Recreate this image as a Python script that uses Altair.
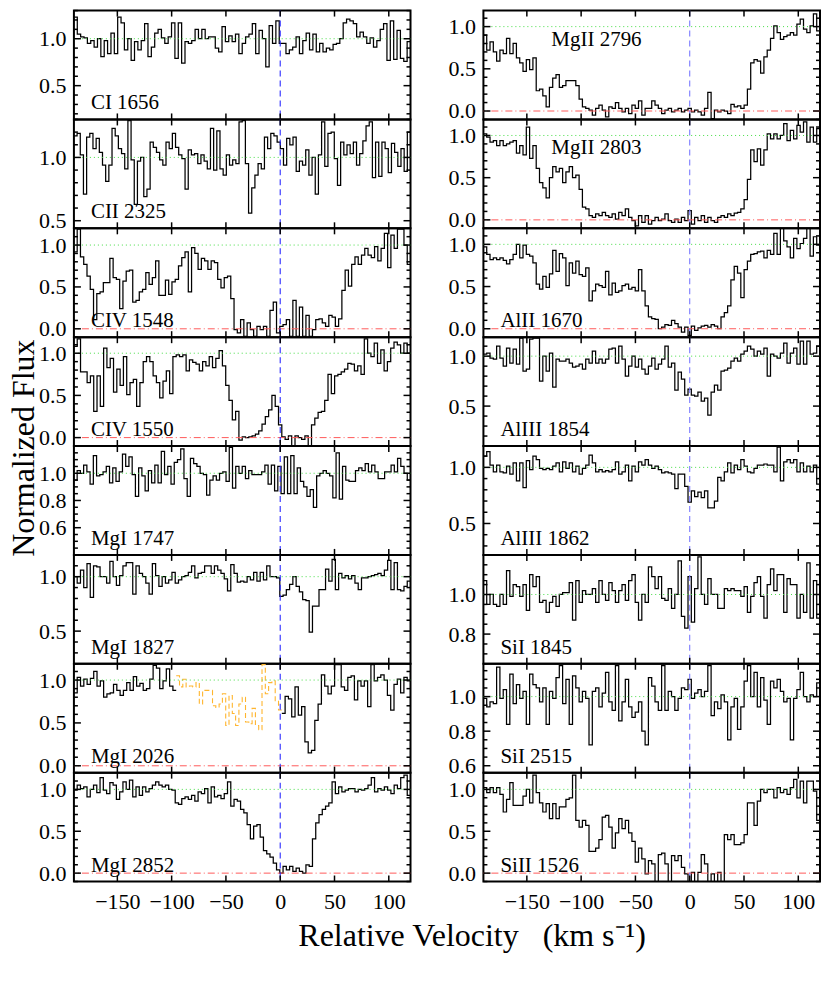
import altair as alt
import numpy as np
import pandas as pd

# ---------------- data (normalized flux) ----------------
V_MIN, V_MAX = -190.0, 120.0
X_TICKS = [-150, -100, -50, 0, 50, 100]

CI_1656 = [1.23,1.05,1.02,1.01,0.95,0.98,0.91,1.00,0.81,0.98,0.84,1.06,0.84,1.23,1.17,0.88,1.00,0.77,0.97,0.88,0.98,1.16,0.81,0.91,1.06,1.10,1.01,0.95,1.02,1.17,0.79,1.17,0.74,0.97,0.95,0.98,1.10,1.00,1.10,1.00,1.02,1.02,0.90,0.86,1.13,0.97,1.03,0.97,1.05,0.84,0.95,1.02,1.05,1.16,0.84,1.09,1.00,0.70,1.14,0.95,1.19,0.95,0.95,0.84,0.88,0.91,1.02,0.84,0.98,1.06,0.88,1.05,0.86,0.95,0.86,0.90,0.88,0.94,0.95,1.00,1.17,1.21,1.19,1.16,1.02,1.07,1.02,0.95,1.01,0.91,0.98,1.10,1.16,0.77,1.19,0.78,1.09,0.79,0.76,0.97]
CII_2325 = [1.17,1.19,1.02,0.71,1.16,1.19,1.07,1.15,1.04,0.94,0.81,0.94,1.23,1.17,1.07,1.03,0.91,1.29,0.98,0.63,0.97,1.00,0.69,0.75,1.12,1.08,1.04,0.98,0.94,1.12,1.07,1.19,1.08,1.02,0.99,0.75,1.06,1.02,1.03,0.95,1.02,0.97,0.91,1.23,0.90,1.21,0.91,0.86,1.02,0.94,0.98,0.95,1.28,1.29,0.95,0.56,0.76,0.86,0.95,0.91,1.16,1.07,1.19,1.17,1.12,1.07,0.94,1.15,1.10,1.16,0.89,0.97,0.94,1.06,0.86,1.00,0.71,1.02,1.28,0.93,1.19,1.20,0.99,0.78,1.12,1.02,1.10,1.03,1.12,0.94,1.03,1.13,1.25,1.28,0.84,1.12,0.85,1.12,1.07,0.88,1.11,1.04,0.93,1.07,0.89,1.20]
CIV_1548 = [0.92,1.19,0.86,0.77,0.63,0.47,0.11,0.42,0.44,0.55,0.55,0.84,0.61,0.59,0.24,0.57,0.69,0.70,0.32,0.34,0.44,0.47,0.67,0.53,0.61,0.81,0.40,0.40,0.58,0.41,0.56,0.59,0.75,0.85,0.92,0.44,0.97,0.90,0.71,0.84,0.81,0.71,0.81,0.79,0.59,0.49,0.61,0.63,0.36,-0.01,-0.05,0.11,-0.09,0.07,-0.01,-0.09,0.03,-0.01,0.03,-0.09,0.22,0.32,-0.05,0.03,0.05,0.11,-0.09,0.34,-0.09,0.26,-0.09,0.16,-0.09,-0.01,0.11,0.12,0.07,0.03,0.16,0.14,0.03,0.12,0.46,0.70,0.51,0.77,0.86,0.77,0.88,0.96,0.88,0.85,0.98,0.81,0.96,1.14,0.73,1.12,0.96,1.19,1.19,1.00,0.77]
CIV_1550 = [1.08,1.17,0.78,0.78,0.65,0.73,0.31,0.73,0.37,1.06,0.83,0.94,0.54,0.81,0.62,0.96,0.51,0.65,0.69,0.37,0.65,0.90,0.96,0.90,0.73,0.65,0.47,0.67,0.79,0.52,0.96,0.98,0.96,0.98,0.79,0.92,0.89,0.87,0.79,0.90,0.85,0.96,0.83,0.94,1.03,0.85,0.62,0.44,0.21,0.31,-0.03,0.01,0.00,0.01,0.02,0.04,0.08,0.16,0.25,0.33,0.50,0.37,0.15,0.01,-0.02,0.02,-0.12,0.02,0.00,-0.02,0.02,-0.12,0.15,0.23,0.30,0.31,0.44,0.75,0.52,0.73,0.75,0.78,0.81,0.88,0.87,0.79,0.85,0.75,1.17,1.00,0.96,1.12,0.88,1.04,0.79,0.90,1.06,1.13,1.10,1.00,1.12,1.00]
MGI_1747 = [0.95,1.02,1.00,1.06,1.01,0.92,1.13,0.98,0.99,1.01,1.05,0.93,1.04,0.94,1.01,1.14,1.05,1.12,0.99,0.83,1.04,0.98,0.87,1.02,0.93,1.06,0.93,1.16,0.99,1.05,0.92,1.08,1.10,1.18,0.96,0.83,1.11,1.07,1.05,1.00,0.99,0.84,0.95,0.98,0.95,1.00,1.01,0.94,1.19,0.89,1.05,1.00,1.05,0.96,1.02,0.99,0.99,0.99,1.01,1.06,0.92,1.06,0.87,1.05,0.85,1.12,0.85,1.13,0.85,1.04,0.94,0.90,0.83,0.88,0.75,0.98,1.00,1.02,1.00,0.98,0.82,1.15,0.81,1.05,0.95,0.94,0.94,1.02,1.04,1.02,1.07,1.01,1.06,1.01,0.96,0.96,1.01,1.01,1.06,1.01,1.11,1.05,1.00,0.95]
MGI_1827 = [1.00,0.94,1.06,0.90,1.12,0.81,1.10,1.09,1.00,1.00,0.94,1.14,1.00,0.92,1.01,1.10,1.13,1.13,0.84,1.10,1.03,1.00,0.94,0.84,1.12,1.01,0.91,1.00,0.94,0.97,1.04,0.94,0.97,1.00,1.01,1.04,1.10,0.99,1.03,1.04,1.10,1.10,1.03,1.10,1.06,1.03,0.98,0.87,1.11,1.03,0.95,0.96,0.95,1.00,0.97,1.04,0.96,1.04,0.97,1.10,1.00,1.00,0.99,0.82,0.83,0.88,0.93,1.00,0.91,0.86,0.79,0.78,0.49,0.73,0.73,0.88,0.88,1.07,0.96,1.16,0.88,1.03,0.99,1.01,0.98,1.01,0.94,0.88,0.99,0.99,1.00,1.01,1.02,1.03,1.01,1.06,1.15,0.88,1.13,0.88,0.87,0.91,0.96]
MGI_2026 = [0.85,1.03,0.93,1.01,0.95,1.02,1.10,0.93,0.99,0.80,0.84,0.85,0.95,0.88,0.82,0.88,0.97,0.88,1.04,0.93,0.96,0.88,0.90,1.01,1.17,1.14,0.90,0.99,1.13,0.93,0.88,
            1.05,0.92,1.01,0.92,0.93,0.92,0.97,0.72,0.88,0.88,0.88,0.70,0.68,0.72,0.84,0.47,0.82,0.61,0.47,0.72,0.80,0.51,0.49,0.67,0.47,0.42,1.18,0.84,0.97,0.99,0.76,0.65,
            0.61,0.81,0.78,0.57,0.92,0.59,0.69,0.28,0.15,0.18,0.53,0.72,1.06,0.93,0.84,0.93,1.18,1.18,0.92,0.88,1.03,1.05,0.77,0.99,0.93,0.99,0.69,1.18,0.99,1.03,1.06,1.00,0.82,0.65,0.95,1.01,0.85,1.03,0.99]
MGI_2026_BLEND = (-97.0, 0.0)   # velocity range drawn as the blended (orange) part
MGI_2852 = [0.99,1.05,1.01,1.03,0.91,1.00,1.05,0.96,1.14,0.99,0.95,1.08,1.05,0.88,0.97,1.09,1.00,1.11,0.91,1.03,0.93,1.03,0.97,1.01,1.05,1.09,1.05,1.03,1.05,1.00,0.99,0.84,0.82,0.89,0.91,0.88,0.93,0.86,0.97,0.95,1.01,0.84,1.03,0.91,0.93,0.89,0.95,1.09,0.80,0.88,0.86,0.76,0.72,0.58,0.41,0.56,0.58,0.43,0.27,0.23,0.19,0.12,0.04,0.00,0.08,0.04,0.08,0.02,0.06,0.02,0.00,0.10,0.08,0.41,0.60,0.70,0.76,0.80,0.84,1.09,0.95,1.03,0.97,0.99,1.01,1.01,0.97,1.00,0.99,1.01,1.05,1.14,0.97,1.01,0.99,1.03,0.99,0.95,1.05,1.01,1.14,1.17,0.93]

MGII_2796 = [0.90,0.72,0.82,0.70,0.59,0.72,0.68,0.86,0.68,0.80,0.63,0.57,0.47,0.61,0.49,0.63,0.24,0.26,0.18,0.05,0.28,0.39,0.43,0.28,0.30,0.36,0.36,0.36,0.30,0.14,0.05,0.03,0.01,-0.05,0.03,0.07,0.01,-0.07,0.05,0.03,0.10,0.03,-0.01,0.03,-0.03,0.07,0.03,0.12,-0.05,0.03,0.03,0.12,0.07,0.03,-0.03,0.01,0.03,-0.01,0.01,0.03,-0.01,0.01,0.03,-0.01,0.01,-0.01,-0.05,0.03,0.22,-0.09,0.01,-0.01,0.01,0.00,-0.03,0.08,0.05,0.06,0.03,0.07,0.26,0.57,0.61,0.59,0.45,0.64,0.72,0.86,1.01,0.93,0.85,0.88,0.90,0.93,0.90,1.03,1.09,0.97,0.93,1.01,1.15,0.95]
MGII_2803 = [1.02,0.98,0.92,0.94,0.88,0.94,0.88,0.90,0.92,0.94,0.79,0.88,0.77,1.10,0.73,0.88,0.61,0.44,0.38,0.26,0.50,0.63,0.57,0.61,0.44,0.57,0.63,0.50,0.53,0.36,0.15,0.13,0.05,0.03,0.07,0.05,0.09,0.05,0.03,0.07,0.01,0.09,0.05,0.13,0.03,-0.01,-0.07,0.05,-0.03,0.05,-0.05,-0.01,0.03,-0.01,0.01,0.07,-0.01,-0.03,0.01,-0.03,0.03,-0.01,0.11,-0.05,0.03,-0.01,0.05,-0.03,0.03,-0.01,-0.03,0.03,0.05,0.03,0.07,0.05,0.08,0.09,0.13,0.24,0.48,0.83,0.69,0.84,0.65,0.83,1.02,0.96,1.02,0.96,1.00,1.14,0.94,1.06,0.96,1.12,1.04,1.16,0.92,1.10,0.92,1.08]
ALII_1670 = [0.97,0.88,0.82,0.84,0.82,0.84,0.81,0.77,0.82,0.88,1.00,0.84,0.99,0.88,0.86,0.78,0.53,0.47,0.62,0.49,0.65,0.93,0.68,0.89,0.84,0.51,0.78,0.66,0.80,0.64,0.62,0.72,0.33,0.45,0.53,0.51,0.49,0.68,0.40,0.54,0.43,0.45,0.51,0.53,0.47,0.49,0.45,0.70,0.45,0.27,0.14,0.12,0.11,0.00,0.02,0.05,0.04,0.10,0.06,0.02,-0.04,0.02,-0.08,0.03,-0.02,0.01,0.03,0.04,0.02,0.05,0.03,0.00,0.14,0.19,0.27,0.58,0.74,0.66,0.37,0.70,0.80,0.88,0.89,0.91,0.92,0.84,0.93,0.88,1.13,0.88,1.19,1.04,0.97,0.84,1.07,0.95,1.01,1.07,1.19,0.86,1.09,0.99]
ALIII_1854 = [1.02,1.03,0.98,0.97,1.10,0.98,0.90,1.08,0.93,1.07,0.92,1.18,0.85,0.87,1.17,1.18,1.18,0.75,1.00,0.85,1.03,0.69,0.97,0.95,0.95,0.97,0.93,0.89,0.90,0.92,0.87,0.97,0.93,1.05,0.93,0.97,0.93,0.97,1.07,1.08,0.93,1.10,0.97,0.80,0.90,1.00,0.89,0.97,0.87,0.82,0.90,0.98,0.87,0.92,0.97,1.10,0.89,0.93,0.66,0.84,0.77,0.61,0.67,0.61,0.60,0.64,0.55,0.58,0.41,0.64,0.71,0.66,0.85,0.86,0.88,0.95,0.98,0.95,1.02,1.05,1.10,1.07,1.00,1.05,1.02,1.08,0.80,1.02,1.00,0.98,1.03,1.13,0.93,1.03,1.08,0.92,1.15,0.92,1.15,1.02,1.03,1.10]
ALIII_1862 = [1.10,1.14,1.02,0.96,1.02,0.96,0.95,1.01,0.94,1.04,0.88,1.04,0.82,1.06,0.98,1.10,1.07,0.99,0.98,0.99,0.98,1.01,1.04,0.96,1.05,0.99,1.04,0.96,1.01,0.94,0.99,1.02,1.11,1.04,0.96,0.98,0.96,0.97,0.96,0.98,1.05,0.94,0.96,1.02,0.88,1.01,0.96,1.05,1.02,1.07,1.02,0.99,1.01,0.98,0.95,0.96,0.95,0.94,0.81,0.94,0.94,0.83,0.69,0.79,0.74,0.78,0.73,0.79,0.64,0.64,0.70,0.91,0.88,0.96,1.04,0.95,1.02,0.98,1.07,1.01,0.96,0.95,0.99,1.02,1.02,1.03,1.02,1.02,0.96,1.18,0.88,1.05,1.07,1.04,1.07,0.96,1.04,0.96,1.01,0.96,1.02,0.85]
SII_1845 = [1.07,0.95,1.00,0.95,0.94,1.00,0.95,1.12,0.99,1.05,1.04,0.99,1.05,0.92,1.10,1.04,1.09,0.96,0.97,0.91,0.96,0.99,0.94,1.00,1.01,1.01,1.06,0.87,1.07,0.96,1.02,1.00,1.00,1.03,0.96,1.07,1.00,0.97,1.06,1.02,0.96,1.02,1.05,0.97,1.07,1.10,0.96,0.87,1.00,0.96,1.14,1.09,1.03,1.09,0.98,0.97,1.03,0.93,1.00,1.17,0.89,0.83,1.09,0.86,1.03,1.19,1.00,0.95,1.08,1.00,1.00,0.93,0.93,1.03,1.02,1.03,1.02,1.02,0.99,1.04,0.91,0.99,1.06,1.09,0.99,0.88,1.05,1.13,1.02,1.10,1.10,0.91,1.08,1.05,1.05,0.88,1.00,0.91,1.16,0.88,1.07,0.88]
SII_2515 = [0.99,0.94,0.97,0.96,1.17,0.99,1.04,0.84,1.13,0.96,1.07,0.99,1.03,0.84,1.13,1.07,1.05,0.97,1.05,0.84,1.03,0.99,1.11,1.18,0.96,1.10,0.84,1.12,1.05,0.97,1.03,0.99,0.72,1.03,1.05,0.94,1.02,1.14,0.97,0.92,1.18,0.86,0.97,1.10,0.94,0.88,0.91,0.97,0.80,0.72,1.11,1.06,0.97,0.92,1.18,0.92,1.03,1.00,0.92,0.99,1.05,1.04,1.10,0.99,1.02,1.04,1.00,1.03,1.18,0.89,0.97,0.93,1.01,0.97,0.75,0.94,0.99,0.81,0.94,1.09,1.18,1.00,1.14,0.94,1.11,0.98,0.84,1.09,1.05,1.10,1.03,0.97,0.99,0.75,0.99,1.04,1.14,1.00,0.97,1.01,1.00,1.08]
SIII_1526 = [1.02,0.96,1.02,0.96,1.02,0.94,0.73,0.88,1.08,0.81,0.81,0.81,0.92,1.00,0.84,1.17,0.96,0.84,0.73,0.83,0.65,0.83,0.65,0.79,0.79,0.88,0.90,1.17,0.63,0.55,0.63,0.57,0.26,0.26,0.30,0.40,0.67,0.69,0.55,0.30,0.48,0.65,0.53,0.63,0.48,0.38,0.13,0.30,0.17,-0.01,0.15,0.11,-0.12,0.22,0.24,0.11,-0.12,0.21,0.15,0.21,0.07,-0.01,-0.12,0.01,-0.12,0.01,0.22,0.11,-0.12,-0.01,-0.12,0.01,-0.12,0.46,0.40,0.46,0.34,0.34,0.36,0.46,0.84,0.84,0.57,0.86,1.00,0.96,1.00,1.00,0.90,1.02,0.96,1.00,0.94,1.02,1.12,0.90,1.10,0.84,1.10,1.10,0.98,0.63]

LEFT_PANELS = [
    dict(label="CI 1656",  flux=CI_1656,  ymin=0.14, ymax=1.30, major=[0.5, 1.0], minor=0.1),
    dict(label="CII 2325", flux=CII_2325, ymin=0.44, ymax=1.30, major=[0.5, 1.0], minor=0.1),
    dict(label="CIV 1548", flux=CIV_1548, ymin=-0.10, ymax=1.20, major=[0.0, 0.5, 1.0], minor=0.1),
    dict(label="CIV 1550", flux=CIV_1550, ymin=-0.10, ymax=1.19, major=[0.0, 0.5, 1.0], minor=0.1),
    dict(label="MgI 1747", flux=MGI_1747, ymin=0.40, ymax=1.20, major=[0.6, 0.8, 1.0], minor=0.05),
    dict(label="MgI 1827", flux=MGI_1827, ymin=0.20, ymax=1.20, major=[0.5, 1.0], minor=0.1),
    dict(label="MgI 2026", flux=MGI_2026, ymin=-0.08, ymax=1.19, major=[0.0, 0.5, 1.0], minor=0.1, blend=MGI_2026_BLEND),
    dict(label="MgI 2852", flux=MGI_2852, ymin=-0.10, ymax=1.20, major=[0.0, 0.5, 1.0], minor=0.1),
]
RIGHT_PANELS = [
    dict(label="MgII 2796", flux=MGII_2796, ymin=-0.10, ymax=1.19, major=[0.0, 0.5, 1.0], minor=0.1, top=True),
    dict(label="MgII 2803", flux=MGII_2803, ymin=-0.10, ymax=1.19, major=[0.0, 0.5, 1.0], minor=0.1, top=True),
    dict(label="AlII 1670", flux=ALII_1670, ymin=-0.10, ymax=1.19, major=[0.0, 0.5, 1.0], minor=0.1),
    dict(label="AlIII 1854", flux=ALIII_1854, ymin=0.10, ymax=1.19, major=[0.5, 1.0], minor=0.1),
    dict(label="AlIII 1862", flux=ALIII_1862, ymin=0.22, ymax=1.19, major=[0.5, 1.0], minor=0.1),
    dict(label="SiI 1845", flux=SII_1845, ymin=0.65, ymax=1.20, major=[0.8, 1.0], minor=0.05),
    dict(label="SiI 2515", flux=SII_2515, ymin=0.56, ymax=1.19, major=[0.6, 0.8, 1.0], minor=0.05),
    dict(label="SiII 1526", flux=SIII_1526, ymin=-0.10, ymax=1.20, major=[0.0, 0.5, 1.0], minor=0.1),
]

# ---------------- styling ----------------
FONT = "Liberation Serif"
W, H = 337, 109
GAP = 73
TICK_FS = 22
LABEL_FS = 21


def minor_ticks(lo, hi, step, major):
    k0 = int(np.ceil(lo / step - 1e-9))
    k1 = int(np.floor(hi / step + 1e-9))
    vals = [round(k * step, 4) for k in range(k0, k1 + 1)]
    return [v for v in vals if all(abs(v - m) > 1e-6 for m in major)]


def spectrum_rows(flux, blend):
    n = len(flux)
    edges = np.linspace(V_MIN, V_MAX, n + 1)
    kinds = []
    for i in range(n):
        if blend is not None and blend[0] <= edges[i] < blend[1]:
            kinds.append("blend")
        else:
            kinds.append("main")
    rows, run = [], 0
    for i in range(n):
        if i > 0 and kinds[i] != kinds[i - 1]:
            run += 1
        rows.append(dict(v=float(edges[i]), f=flux[i], kind=kinds[i], run=run))
        if i == n - 1 or kinds[i + 1] != kinds[i]:
            rows.append(dict(v=float(edges[i + 1]), f=flux[i], kind=kinds[i], run=run))
    return pd.DataFrame(rows)


def panel(p, column, bottom):
    xs = alt.Scale(domain=[V_MIN, V_MAX], nice=False, zero=False)
    ys = alt.Scale(domain=[p["ymin"], p["ymax"]], nice=False, zero=False)

    def xaxis():
        if not bottom:
            return None
        return alt.Axis(values=X_TICKS, format="d", labelFont=FONT, labelFontSize=TICK_FS,
                        labelColor="black", labelPadding=10, ticks=False, domain=False,
                        grid=False, title=None, labelFlush=False)

    def yaxis():
        return alt.Axis(values=p["major"], format=".1f", labelFont=FONT, labelFontSize=TICK_FS,
                        labelColor="black", labelPadding=8, ticks=False, domain=False,
                        grid=False, title=None, labelFlush=False)

    def X(field):
        return alt.X(field, scale=xs, axis=xaxis())

    def Y(field):
        return alt.Y(field, scale=ys, axis=yaxis())

    df = spectrum_rows(p["flux"], p.get("blend"))
    layers = []

    main = df[df["kind"] == "main"]
    layers.append(alt.Chart(main).mark_line(
        interpolate="step-after", color="black", strokeWidth=1.25, clip=True).encode(
        x=X("v:Q"), y=Y("f:Q"), detail="run:N"))
    blend = df[df["kind"] == "blend"]
    if len(blend):
        layers.append(alt.Chart(blend).mark_line(
            interpolate="step-after", color="#ffb52e", strokeWidth=1.1,
            strokeDash=[5, 3], clip=True).encode(
            x=X("v:Q"), y=Y("f:Q"), detail="run:N"))

    layers.append(alt.Chart(pd.DataFrame({"r": [1.0]})).mark_rule(
        color="#44dd44", strokeWidth=1, strokeDash=[1, 3]).encode(y=Y("r:Q")))
    if p["ymin"] < 0:
        layers.append(alt.Chart(pd.DataFrame({"r": [0.0]})).mark_rule(
            color="#ff5a5a", strokeWidth=1, strokeDash=[7, 3, 1, 3]).encode(y=Y("r:Q")))
    vcol = "#2a2aff" if column == 0 else "#7b7bff"
    layers.append(alt.Chart(pd.DataFrame({"v": [0.0]})).mark_rule(
        color=vcol, strokeWidth=1.1, strokeDash=[6, 4]).encode(x=X("v:Q")))

    xt = pd.DataFrame({"v": X_TICKS})
    for y0, y1 in [(H, H - 6), (0, 6)]:
        layers.append(alt.Chart(xt).mark_rule(color="black", strokeWidth=1.5).encode(
            x=X("v:Q"), y=alt.value(y0), y2=alt.value(y1)))
    ymaj = pd.DataFrame({"t": p["major"]})
    ymin_ = pd.DataFrame({"t": minor_ticks(p["ymin"], p["ymax"], p["minor"], p["major"])})
    for d, ln in [(ymaj, 7), (ymin_, 4)]:
        for x0, x1 in [(0, ln), (W, W - ln)]:
            layers.append(alt.Chart(d).mark_rule(color="black", strokeWidth=1.5).encode(
                y=Y("t:Q"), x=alt.value(x0), x2=alt.value(x1)))

    if p.get("top"):
        lx, ly = 68, 35
    else:
        lx, ly = 17, H - 10
    layers.append(alt.Chart(pd.DataFrame({"t": [p["label"]]})).mark_text(
        align="left", baseline="alphabetic", font=FONT, fontSize=LABEL_FS, color="black").encode(
        x=alt.value(lx), y=alt.value(ly), text="t:N"))

    return alt.layer(*layers).properties(width=W, height=H)


cells = []
for i in range(len(LEFT_PANELS)):
    last = i == len(LEFT_PANELS) - 1
    cells.append(panel(LEFT_PANELS[i], 0, last))
    cells.append(panel(RIGHT_PANELS[i], 1, last))

grid = alt.concat(*cells, columns=2, spacing={"row": 0, "column": GAP}, bounds="flush")

with_y_title = alt.hconcat(grid).properties(title=alt.TitleParams(
    "Normalized Flux", orient="left", anchor="middle", frame="bounds", font=FONT,
    fontSize=32, fontWeight="normal", color="black", offset=-4, dx=13))

chart = alt.vconcat(with_y_title).properties(
    title=alt.TitleParams(
        "Relative Velocity \u2002(km s\u207b\u00b9)", orient="bottom", anchor="middle",
        frame="bounds", font=FONT, fontSize=32, fontWeight="normal", color="black",
        offset=8, dx=57),
    padding={"left": 0, "top": 0, "right": 0, "bottom": 0},
).configure(font=FONT).configure_axis(labelFont=FONT).configure_title(font=FONT) \
 .configure_view(stroke="black", strokeWidth=2)

chart.save("out.html", embed_options={"renderer": "svg", "actions": False})
